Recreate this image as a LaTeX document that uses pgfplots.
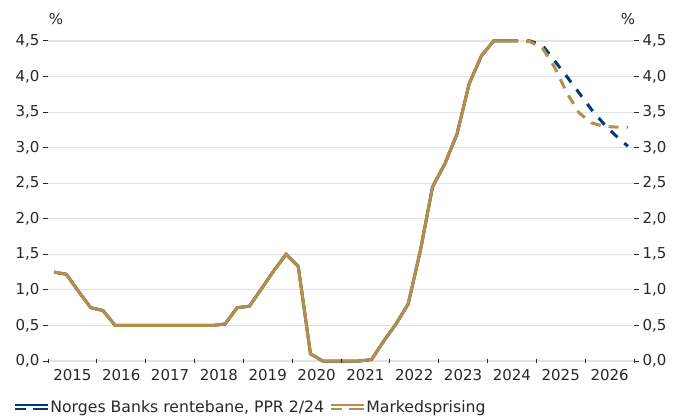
\documentclass[border=0pt]{standalone}
\usepackage{pgfplots}
\pgfplotsset{compat=1.18}
\usepackage{fontspec}
\setmainfont{DejaVu Sans}
\definecolor{nbblue}{RGB}{0,59,125}
\definecolor{nbgold}{RGB}{181,142,72}
\definecolor{gridgray}{RGB}{226,226,226}
\definecolor{txt}{RGB}{40,40,40}
\begin{document}
\begin{tikzpicture}[font=\fontsize{15bp}{18bp}\selectfont]
\pgfplotsset{
  base/.style={
    at={(0,0)}, anchor=south west,
    scale only axis, width=586bp, height=320bp,
    xmin=2015, xmax=2027, ymin=0, ymax=4.5,
    axis line style={draw=none},
    tick label style={font=\fontsize{15bp}{18bp}\selectfont, text=txt},
    major tick length=5bp,
    /pgf/number format/assume math mode=true,
    yticklabel style={/pgf/number format/.cd, fixed, fixed zerofill, precision=1, use comma},
  },
  leg/.style={legend image code/.code={
      \draw[solid, line width=2.2bp] (0bp,1.8bp) -- (33bp,1.8bp);
      \draw[solid, line width=2.2bp] (0bp,-1.8bp) -- (11bp,-1.8bp) (17.5bp,-1.8bp) -- (33bp,-1.8bp);
  }},
}
% main axis: data, left y ticks, grid, x labels
\begin{axis}[base,
  clip=false,
  xtick={2015.5,2016.5,2017.5,2018.5,2019.5,2020.5,2021.5,2022.5,2023.5,2024.5,2025.5,2026.5},
  xticklabels={2015,2016,2017,2018,2019,2020,2021,2022,2023,2024,2025,2026},
  xtick pos=bottom,
  xtick style={draw=none},
  ytick={0,0.5,1,1.5,2,2.5,3,3.5,4,4.5},
  ytick pos=left,
  tick align=outside,
  ytick style={draw=txt, line width=1bp},
  ymajorgrids, grid style={draw=gridgray, line width=1.2bp},
  legend columns=2,
  legend style={at={(rel axis cs:0,0)}, anchor=west, xshift=-34bp, yshift=-46bp,
    draw=none, fill=none, inner sep=0pt,
    nodes={inner sep=1bp, text=txt, font=\fontsize{15.7bp}{18bp}\selectfont},
    /tikz/every even column/.append style={column sep=5bp}},
]
% historical (both series identical)
\addplot[nbblue, line width=3bp, forget plot] coordinates {
(2015.125,1.25) (2015.375,1.22) (2015.625,0.98) (2015.875,0.75)
(2016.125,0.71) (2016.375,0.50) (2016.625,0.50) (2016.875,0.50)
(2017.125,0.50) (2017.375,0.50) (2017.625,0.50) (2017.875,0.50)
(2018.125,0.50) (2018.375,0.50) (2018.625,0.52) (2018.875,0.75)
(2019.125,0.77) (2019.375,1.02) (2019.625,1.27) (2019.875,1.50)
(2020.125,1.33) (2020.375,0.10) (2020.625,0.00) (2020.875,0.00)
(2021.125,0.00) (2021.375,0.00) (2021.625,0.02) (2021.875,0.28)
(2022.125,0.52) (2022.375,0.80) (2022.625,1.55) (2022.875,2.45)
(2023.125,2.77) (2023.375,3.19) (2023.625,3.90) (2023.875,4.29)
(2024.125,4.50) (2024.375,4.50) (2024.625,4.50)
};
\addplot[nbgold, line width=3bp, forget plot] coordinates {
(2015.125,1.25) (2015.375,1.22) (2015.625,0.98) (2015.875,0.75)
(2016.125,0.71) (2016.375,0.50) (2016.625,0.50) (2016.875,0.50)
(2017.125,0.50) (2017.375,0.50) (2017.625,0.50) (2017.875,0.50)
(2018.125,0.50) (2018.375,0.50) (2018.625,0.52) (2018.875,0.75)
(2019.125,0.77) (2019.375,1.02) (2019.625,1.27) (2019.875,1.50)
(2020.125,1.33) (2020.375,0.10) (2020.625,0.00) (2020.875,0.00)
(2021.125,0.00) (2021.375,0.00) (2021.625,0.02) (2021.875,0.28)
(2022.125,0.52) (2022.375,0.80) (2022.625,1.55) (2022.875,2.45)
(2023.125,2.77) (2023.375,3.19) (2023.625,3.90) (2023.875,4.29)
(2024.125,4.50) (2024.375,4.50) (2024.625,4.50)
};
% forecasts
\addplot[nbblue, line width=3bp, dash pattern=on 9bp off 9bp, dash phase=9bp, leg] coordinates {
(2024.625,4.50) (2024.875,4.50) (2025.125,4.44) (2025.375,4.22)
(2025.625,4.00) (2025.875,3.77) (2026.125,3.54) (2026.375,3.34)
(2026.625,3.17) (2026.875,3.02)
};
\addlegendentry{Norges Banks rentebane, PPR 2/24}
\addplot[nbgold, line width=3bp, dash pattern=on 10bp off 8bp, dash phase=10bp, leg] coordinates {
(2024.625,4.50) (2024.875,4.49) (2025.125,4.40) (2025.375,4.13)
(2025.625,3.77) (2025.875,3.49) (2026.125,3.35) (2026.375,3.30)
(2026.625,3.29) (2026.875,3.29)
};
\addlegendentry{Markedsprising}
\node[text=txt, xshift=8bp, yshift=22bp] at (rel axis cs:0,1) {\%};
\node[text=txt, xshift=-6bp, yshift=22bp] at (rel axis cs:1,1) {\%};
\end{axis}
% x tick marks at year boundaries
\begin{axis}[base,
  xtick={2015,2016,2017,2018,2019,2020,2021,2022,2023,2024,2025,2026,2027},
  xticklabels={},
  xtick pos=bottom,
  ytick=\empty,
  tick align=center,
  xtick style={draw=txt, line width=1bp},
]
\end{axis}
% right y axis
\begin{axis}[base,
  xtick=\empty,
  ytick={0,0.5,1,1.5,2,2.5,3,3.5,4,4.5},
  ytick pos=right, yticklabel pos=right,
  tick align=outside,
  ytick style={draw=txt, line width=1bp},
]
\end{axis}
\pgfresetboundingbox
\useasboundingbox (-48bp,-55bp) rectangle (625bp,361bp);
\end{tikzpicture}
\end{document}
